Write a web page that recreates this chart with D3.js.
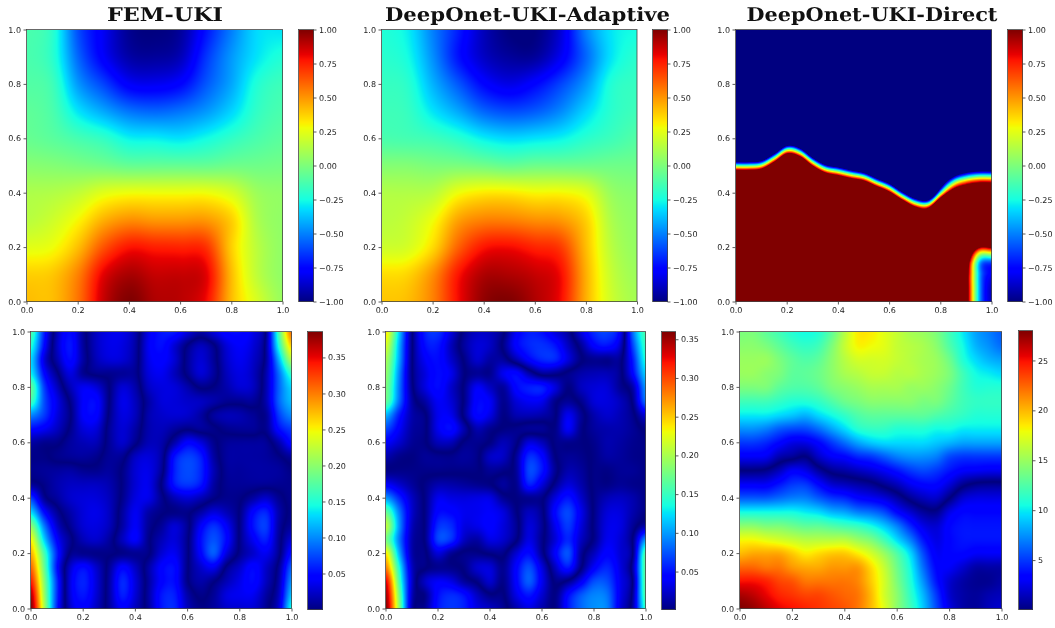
<!DOCTYPE html>
<html><head><meta charset="utf-8">
<script src="https://cdn.jsdelivr.net/npm/d3@7"></script>
<style>
html,body{margin:0;padding:0;background:#fff;overflow:hidden}
#root{position:relative;width:1055px;height:628px}
canvas{position:absolute;display:block}
svg{position:absolute;left:0;top:0;text-rendering:geometricPrecision}
</style></head><body><div id="root"></div>
<script>
const titles = ["FEM-UKI","DeepOnet-UKI-Adaptive","DeepOnet-UKI-Direct"];
const axisTicks = [0,0.2,0.4,0.6,0.8,1.0];
const fieldTicks = [-1,-0.75,-0.5,-0.25,0,0.25,0.5,0.75,1];
const femErrTicks = [0.05,0.10,0.15,0.20,0.25,0.30,0.35];
const adaptiveErrTicks = [0.05,0.10,0.15,0.20,0.25,0.30,0.35];
const directErrTicks = [5,10,15,20,25];

// rows run from y=1 (top) to y=0 (bottom), columns from x=0 to x=1
const femField = [
[-.12,-.2,-.6,-.8,-.97,-1,-.95,-.72,-.5,-.32,-.3],
[-.12,-.2,-.55,-.78,-.93,-.95,-.9,-.65,-.45,-.3,-.22],
[-.1,-.15,-.45,-.62,-.78,-.8,-.75,-.58,-.42,-.22,-.15],
[-.07,-.12,-.3,-.42,-.52,-.55,-.52,-.45,-.33,-.18,-.12],
[-.05,-.08,-.13,-.18,-.27,-.28,-.3,-.25,-.18,-.12,-.08],
[.03,.02,0,-.02,-.05,-.05,-.05,-.05,-.03,-.03,-.02],
[.12,.13,.17,.25,.28,.28,.28,.28,.22,.08,.05],
[.15,.2,.3,.45,.52,.5,.5,.5,.38,.12,.05],
[.25,.28,.42,.65,.78,.76,.75,.72,.38,.15,.05],
[.38,.4,.55,.83,.93,.88,.88,.83,.42,.16,.05],
[.42,.42,.58,.88,1,.92,.9,.8,.42,.22,.07]];
const adaptiveField = [
[-.22,-.28,-.5,-.7,-.9,-1,-1,-.85,-.5,-.3,-.25],
[-.2,-.25,-.47,-.72,-.88,-.95,-.95,-.8,-.55,-.3,-.2],
[-.17,-.2,-.4,-.58,-.75,-.82,-.75,-.62,-.45,-.22,-.17],
[-.15,-.17,-.3,-.42,-.55,-.6,-.57,-.48,-.33,-.2,-.15],
[-.12,-.13,-.15,-.2,-.28,-.32,-.3,-.27,-.2,-.15,-.1],
[.02,.02,0,0,-.02,-.05,-.03,-.03,-.03,-.03,-.03],
[.13,.13,.15,.28,.33,.33,.3,.3,.25,.07,.03],
[.15,.18,.28,.48,.55,.55,.52,.5,.38,.12,.05],
[.2,.22,.36,.62,.78,.8,.75,.7,.42,.15,.06],
[.35,.37,.52,.78,.92,.92,.88,.8,.45,.18,.08],
[.4,.42,.55,.8,.97,1,.92,.8,.45,.2,.1]];
const directField = [
[-20,-20,-20,-20,-20,-20,-20,-20,-20,-20,-20,-20,-20,-20,-20,-20,-20,-20,-20,-20,-20],
[-20,-20,-20,-20,-20,-20,-20,-20,-20,-20,-20,-20,-20,-20,-20,-20,-20,-20,-20,-20,-20],
[-20,-20,-20,-20,-20,-20,-20,-20,-20,-20,-20,-20,-20,-20,-20,-20,-20,-20,-20,-20,-20],
[-20,-20,-20,-20,-20,-20,-20,-20,-20,-20,-20,-20,-20,-20,-20,-20,-20,-20,-20,-20,-20],
[-20,-20,-20,-20,-20,-20,-20,-20,-20,-20,-20,-20,-20,-20,-20,-20,-20,-20,-20,-20,-20],
[-20,-20,-20,-20,-20,-20,-20,-20,-20,-20,-20,-20,-20,-20,-20,-20,-20,-20,-20,-20,-20],
[-13,-13,-13,-11,-9,-10,-12,-14,-15,-15,-16,-17,-18,-20,-22,-22,-20,-17,-16,-16,-16],
[-10,-10,-9.7,-8,-6,-6.7,-9,-10.7,-11.3,-12,-12.7,-14,-15.3,-17.3,-19,-19.3,-16.7,-14,-13,-12.7,-12.7],
[-6.7,-6.7,-6.3,-4.7,-2.7,-3.3,-5.7,-7.3,-8,-8.7,-9.3,-10.7,-12,-14,-15.7,-16,-13.3,-10.7,-9.7,-9.3,-9.3],
[-3.3,-3.3,-3,-1.3,.7,0,-2.3,-4,-4.7,-5.3,-6,-7.3,-8.7,-10.7,-12.3,-12.7,-7,-5,-4.4,-4.2,-4.2],
[0,0,.3,2,4,3.3,1,-.7,-1.3,-2,-2.7,-4,-5.3,-7.3,-9,-9.3,-4.7,-2.8,-2.1,-1.9,-1.9],
[3.3,3.3,3.7,5.3,7.3,6.7,4.3,2.7,2,1.3,.7,-.7,-2,-4,-5.7,-6,-2.3,-.5,.2,.5,.5],
[6.7,6.7,7,8.7,10.7,10,7.7,6,5.3,4.7,4,2.7,1.3,-.7,-2.3,-2.7,0,1.9,2.6,2.8,2.8],
[10,10,10.3,12,14,13.3,11,9.3,8.7,8,7.3,6,4.7,2.7,1,.7,3.3,6,7,7.3,7.3],
[13.3,13.3,13.7,15.3,17.3,16.7,14.3,12.7,12,11.3,10.7,9.3,8,6,4.3,4,6.7,9.3,10.3,10.7,10.7],
[15,15,15,15,15,15,15,15,15,15,15,15,15,15,15,15,10,8,5,4,3.5],
[15,15,15,15,15,15,15,15,15,15,15,15,15,15,15,15,8,5,2.5,1,1],
[15,15,15,15,15,15,15,15,15,15,15,15,15,15,15,15,8,4,1.5,-.3,-.55],
[15,15,15,15,15,15,15,15,15,15,15,15,15,15,15,15,8,4,1.3,-.4,-.8],
[15,15,15,15,15,15,15,15,15,15,15,15,15,15,15,15,8,4,1.3,-.4,-.9],
[15,15,15,15,15,15,15,15,15,15,15,15,15,15,15,15,8,4,1.3,-.4,-.9]];
// signed residuals in thousandths; the plotted error is their absolute value
const femError = [
[170,60,-18,-50,-8,22,35,35,14,-35,-55,-55,-30,-12,-30,-48,-50,-35,4,170,310],
[150,50,-22,-55,-10,22,35,32,12,-38,-52,-28,2,20,3,-30,-42,-30,8,150,270],
[130,32,-15,-50,-12,18,30,28,10,-35,-45,-28,8,28,8,-25,-38,-25,8,115,220],
[140,50,4,-32,-6,4,5,8,6,-30,-38,-20,5,28,10,-20,-33,-22,14,90,160],
[180,72,22,-18,-38,-30,0,28,14,-22,-32,-30,-15,2,-2,-15,-28,-22,15,85,130],
[165,78,35,-3,-42,-48,0,35,20,-12,-30,-30,-25,-22,-14,-6,-6,-8,15,85,120],
[100,70,32,2,-42,-45,3,32,20,-15,-25,-28,-25,-12,10,18,16,8,6,70,100],
[50,40,22,-3,-30,-30,8,28,12,-15,-20,-10,-2,-8,-3,5,8,8,5,50,70],
[12,5,3,-10,-18,-18,8,25,4,-18,-15,15,45,32,5,-8,-10,-10,-8,15,50],
[3,2,-4,-8,-10,-5,8,6,-22,-30,-12,52,72,58,12,-10,-12,-12,-10,-2,10],
[5,8,10,12,6,5,10,-2,-28,-35,-8,58,76,62,18,-8,-10,-12,-12,-10,-2],
[-8,3,15,22,22,22,16,-2,-28,-36,2,55,68,55,12,-6,-8,-8,-7,-6,-5],
[-70,-8,10,25,30,30,20,-4,-32,-35,-6,18,28,18,2,-5,-2,12,25,6,-6],
[-130,-50,-8,14,30,35,22,-10,-38,-14,-2,2,3,-12,-30,-18,2,45,60,15,-5],
[-200,-95,-25,6,28,32,20,-12,-40,-8,8,28,6,-40,-65,-40,3,52,70,12,-10],
[-250,-130,-45,-6,18,25,10,-20,-42,-4,18,30,3,-50,-78,-48,3,38,58,8,-30],
[-280,-170,-60,2,5,3,2,-3,-6,-2,28,38,3,-45,-82,-30,5,25,38,5,-55],
[-310,-185,-52,25,50,25,-8,-45,-22,12,45,50,2,-25,-38,4,25,48,25,-8,-85],
[-340,-200,-65,32,60,30,-12,-62,-30,10,45,50,2,-14,-2,18,35,50,22,-15,-105],
[-370,-210,-65,30,55,28,-12,-58,-28,12,55,58,14,-3,8,32,38,38,12,-22,-125],
[-385,-220,-60,24,45,22,-10,-42,-20,10,55,62,20,3,10,25,28,28,6,-30,-150]];
const adaptiveError = [
[240,120,3,-55,-62,-30,6,22,20,3,-38,-55,-50,-30,-10,30,60,68,40,-85,-160],
[220,110,3,-48,-52,-20,10,28,22,-3,-42,-58,-62,-52,-22,8,42,50,25,-70,-150],
[200,105,2,-38,-48,-25,2,25,12,10,-15,-42,-58,-58,-30,-2,6,5,6,-55,-140],
[190,95,2,-30,-48,-35,-2,8,6,35,45,15,-8,-6,4,14,18,18,6,-45,-120],
[180,90,5,-30,-48,-25,3,38,22,10,45,55,55,30,2,20,28,28,8,-15,-100],
[170,85,12,-12,-38,-28,3,45,38,6,28,38,35,5,-8,5,28,30,20,-5,-85],
[110,55,15,2,-35,-35,5,45,32,3,16,18,14,2,-35,-8,15,25,18,4,-30],
[70,40,12,3,-35,-48,-15,16,6,-2,-5,-8,-8,-3,-38,-5,10,15,15,8,-3],
[40,25,8,2,-18,-18,3,6,-2,-18,-4,30,20,-3,-5,-2,5,15,12,6,3],
[15,5,2,8,6,5,10,4,-22,-22,8,60,45,2,-8,-5,3,12,10,5,3],
[3,4,4,4,4,3,3,2,-8,-4,8,70,52,8,-15,-10,3,3,8,8,3],
[40,25,10,-3,-15,-14,-10,-6,-2,10,5,55,30,-5,-28,-15,3,3,8,5,3],
[100,60,22,-3,-35,-32,-30,-32,-32,-8,1,6,3,-30,-52,-25,3,18,22,15,3],
[170,90,25,-3,-45,-45,-36,-36,-40,-30,-3,20,5,-45,-70,-35,3,28,30,15,2],
[210,100,20,-3,-60,-60,-32,-34,-42,-30,-8,28,8,-35,-65,-30,4,32,32,8,-15],
[180,90,15,-3,-68,-62,-22,-12,-32,-25,-3,32,5,-28,-58,-22,4,35,28,-3,-100],
[240,110,15,3,-28,-8,3,4,-2,-4,26,48,8,-40,-74,-10,20,44,28,-3,-165],
[280,140,22,2,-6,-4,3,25,28,6,42,72,30,-20,-52,-2,40,58,32,-14,-170],
[330,160,25,-22,-38,-32,-10,3,25,4,42,78,36,-3,4,36,72,72,36,-5,-170],
[350,180,20,-4,-48,-60,-50,-22,-3,-2,32,52,26,3,46,76,92,86,36,-10,-165],
[360,190,15,-8,-52,-64,-56,-32,-22,-8,15,32,15,3,52,82,96,92,32,-15,-150]];
const directError = [
[14,14,13,12,11,10.5,11,13,16,18.5,18.5,17.5,16.5,15.5,15,14,12,10,8,7,6],
[14.5,14.5,14,13,12,11.5,12,14,16.5,18.2,18,17.5,16.5,16,15.5,14.5,12.5,10.5,8.5,7.5,6.5],
[15,15,15,14,13,12.5,13,14.5,16,17,17,17,16.5,16,15.5,15,13.5,11,9.5,8.5,8],
[15,15,14.5,14,13,13,13.5,14.5,15.5,16,16.5,16.5,16,16,15.5,15,14,12,10.5,10,9.5],
[14,14,14,13,12.5,12.5,13,14,14.5,15,15.5,15.5,15.5,15,15,14.5,13.5,12,11,11,11],
[12,12,12,11.5,11,11,11.5,12.5,13.5,14,14.5,14.5,14.5,14.5,14,14,13,12,11.5,11.5,11.5],
[10,10,10,9.5,9,8.5,9.5,10.5,11.5,12.5,13,13,13,13,13,12.5,12,11.5,11,11,11],
[7.5,7.5,7,6,5.5,5.5,6.5,8,9.5,11,11.5,11.5,11,11,11,10.5,10.5,10,10,10,10],
[5,5,4.5,3.5,2.5,2.5,3.5,5,6.5,8,9,9.5,9.5,9.5,9.5,9,8.5,8,8,8,8],
[3,3,2.8,1.2,.6,0,1.8,3,3.5,4.5,5,6,7,7.5,7.5,7,5.5,5,5,5,5],
[0,0,-.3,-1.5,-3,-2.5,-.8,.5,1,1.6,2.2,3,4,5,5.5,5,4,3.2,3,2.8,2.8],
[-3,-3,-3,-4,-5,-5,-3.5,-2,-1.5,-1,-.5,.5,1.5,2.8,3.5,3.5,2.2,.5,-.3,-.5,-.5],
[-6,-6,-6,-6.5,-7,-7,-6,-5,-4.5,-3.5,-3,-2.3,-1,.5,1.5,1.8,0,-2,-2.5,-2.5,-2.5],
[-10.5,-10.5,-10.5,-10.5,-10.5,-10,-9.5,-8.5,-8,-7,-6.5,-5.5,-3.5,-2,-.7,-.4,-2.5,-3.5,-3.5,-3.5,-3.5],
[-14.5,-14.5,-14,-14,-13.5,-13,-13,-12.5,-12,-11.5,-10.5,-9,-7,-4.5,-2.5,-2,-3.5,-4,-4,-4,-4],
[-18,-18,-17.5,-17,-16.5,-16,-16,-16,-16,-15,-14,-12,-9.5,-7,-4,-2.5,-3.5,-4,-4,-4,-4],
[-20,-20.5,-20.5,-20.5,-19.5,-18.5,-19,-19.5,-19.5,-18.5,-17,-15,-12.5,-9.5,-5.5,-3,-3.5,-3.5,-3,-3,-3],
[-22.5,-22.5,-22,-22,-21,-20.5,-20.5,-21,-21,-21,-19,-16.5,-13.5,-10.5,-6.5,-3.5,-3,-2,-1,-1,-1],
[-25,-25,-24.5,-23.5,-23,-22,-22,-22,-22,-21.5,-19.5,-17,-14,-11,-7.5,-4,-2,-1,-.5,-.5,-1],
[-27,-26.5,-25.5,-24.5,-24,-23.5,-23.5,-23,-22.5,-22,-20,-17,-14.5,-11.5,-8.5,-5,-2,-1,-.7,-1.2,-1.5],
[-28,-27.5,-26.5,-25.5,-25,-24.5,-24,-23.5,-23,-22,-20,-17.5,-14.5,-12,-9,-5.5,-2.5,-1,-.7,-1.5,-2]];

const fmt2 = v => d3.format(".2f")(v).replace("-","\u2212");
const panels = [
 {grid:femField,      read:v=>v,             dom:[-1,1],        ticks:fieldTicks,       fmt:fmt2, box:[26.5,282.5,29.5,301.5],  bar:[298.5,313.5,29.5,301.5]},
 {grid:adaptiveField, read:v=>v,             dom:[-1,1],        ticks:fieldTicks,       fmt:fmt2, box:[381.5,637,29.5,301.5],   bar:[652.5,667.5,29.5,301.5]},
 {grid:directField,   read:v=>v,             dom:[-1,1],        ticks:fieldTicks,       fmt:fmt2, box:[735.5,991.5,29.5,301.5], bar:[1007.5,1022.5,29.5,301.5]},
 {grid:femError,      read:v=>Math.abs(v)/1000, dom:[0,.386],   ticks:femErrTicks,      fmt:fmt2, box:[30.5,291.5,331.5,608.5], bar:[307.5,322.5,331.5,609.5]},
 {grid:adaptiveError, read:v=>Math.abs(v)/1000, dom:[.001,.36], ticks:adaptiveErrTicks, fmt:fmt2, box:[385.5,645.5,331.5,608.5],bar:[661.5,675.5,331.5,609.5]},
 {grid:directError,   read:v=>Math.abs(v),   dom:[.05,28],      ticks:directErrTicks,   fmt:d3.format("d"), box:[739.5,1001.5,331.5,608.5],bar:[1018.5,1032.5,330.5,609.5]}
];

// matplotlib jet, one piecewise-linear channel scale each
const jetR = d3.scaleLinear().domain([0,.35,.66,.89,1]).range([0,0,1,1,.5]).clamp(true);
const jetG = d3.scaleLinear().domain([0,.125,.375,.64,.91,1]).range([0,0,1,1,0,0]).clamp(true);
const jetB = d3.scaleLinear().domain([0,.11,.34,.65,1]).range([.5,1,1,0,0]).clamp(true);

function cubic(p0,p1,p2,p3,t){
  return p1+.5*t*(p2-p0+t*(2*p0-5*p1+4*p2-p3+t*(3*(p1-p2)+p3-p0)));
}
function sample(g,x,y){
  const nr=g.length,nc=g[0].length;
  const fx=x*(nc-1),fy=(1-y)*(nr-1);
  const ix=Math.min(nc-2,Math.max(0,Math.floor(fx))),iy=Math.min(nr-2,Math.max(0,Math.floor(fy)));
  const tx=fx-ix,ty=fy-iy;
  const row=r=>{
    const R=g[Math.max(0,Math.min(nr-1,r))];
    const c=i=>R[Math.max(0,Math.min(nc-1,i))];
    return cubic(c(ix-1),c(ix),c(ix+1),c(ix+2),tx);
  };
  return cubic(row(iy-1),row(iy),row(iy+1),row(iy+2),ty);
}
function paint(b,fn,dom){
  const [x0,x1,y0,y1]=b;
  const L=Math.round(x0),T=Math.round(y0),W=Math.round(x1)-L,H=Math.round(y1)-T;
  const cv=d3.select("#root").append("canvas").attr("width",W).attr("height",H)
    .style("left",L+"px").style("top",T+"px").node();
  const ctx=cv.getContext("2d"),img=ctx.createImageData(W,H);
  const norm=d3.scaleLinear().domain(dom).range([0,1]).clamp(true);
  for(let j=0;j<H;j++)for(let i=0;i<W;i++){
    const t=norm(fn((i+.5)/W,1-(j+.5)/H)),k=4*(j*W+i);
    img.data[k]=255*jetR(t);img.data[k+1]=255*jetG(t);img.data[k+2]=255*jetB(t);img.data[k+3]=255;
  }
  ctx.putImageData(img,0,0);
}
panels.forEach(p=>{
  paint(p.box,(x,y)=>p.read(sample(p.grid,x,y)),p.dom);
  paint(p.bar,(x,y)=>p.dom[0]+y*(p.dom[1]-p.dom[0]),p.dom);
});

const svg=d3.select("#root").append("svg").attr("width",1055).attr("height",628);
function style(g){
  g.selectAll("text").attr("font-family","'DejaVu Sans'").attr("font-size",8).attr("fill","#222");
  g.selectAll("line").attr("stroke","#333").attr("stroke-width",.8);
  g.select(".domain").remove();
}
panels.forEach(p=>{
  const [x0,x1,y0,y1]=p.box;
  const x=d3.scaleLinear().domain([0,1]).range([x0,x1]);
  const y=d3.scaleLinear().domain([0,1]).range([y1,y0]);
  svg.append("g").attr("transform",`translate(0,${y1})`)
    .call(d3.axisBottom(x).tickValues(axisTicks).tickFormat(d3.format(".1f")).tickSize(3).tickPadding(2.5)).call(style);
  svg.append("g").attr("transform",`translate(${x0},0)`)
    .call(d3.axisLeft(y).tickValues(axisTicks).tickFormat(d3.format(".1f")).tickSize(3).tickPadding(2.5)).call(style);
  svg.append("rect").attr("x",x0).attr("y",y0).attr("width",x1-x0).attr("height",y1-y0)
    .attr("fill","none").attr("stroke","#444").attr("stroke-width",.8);
  const [bx0,bx1,by0,by1]=p.bar;
  const c=d3.scaleLinear().domain(p.dom).range([by1,by0]);
  svg.append("g").attr("transform",`translate(${bx1},0)`)
    .call(d3.axisRight(c).tickValues(p.ticks).tickFormat(p.fmt).tickSize(3).tickPadding(2.5)).call(style);
  svg.append("rect").attr("x",bx0).attr("y",by0).attr("width",bx1-bx0).attr("height",by1-by0)
    .attr("fill","none").attr("stroke","#444").attr("stroke-width",.8);
});
const titleSpans=[[107,223],[385,670],[746.5,997.5]];
titles.forEach((t,i)=>{
  const [a,b]=titleSpans[i];
  svg.append("text").text(t).attr("x",(a+b)/2).attr("y",21).attr("text-anchor","middle")
    .attr("font-family","'DejaVu Serif'").attr("font-weight","bold").attr("font-size",19)
    .attr("textLength",b-a).attr("lengthAdjust","spacingAndGlyphs").attr("fill","#111");
});
</script></body></html>
